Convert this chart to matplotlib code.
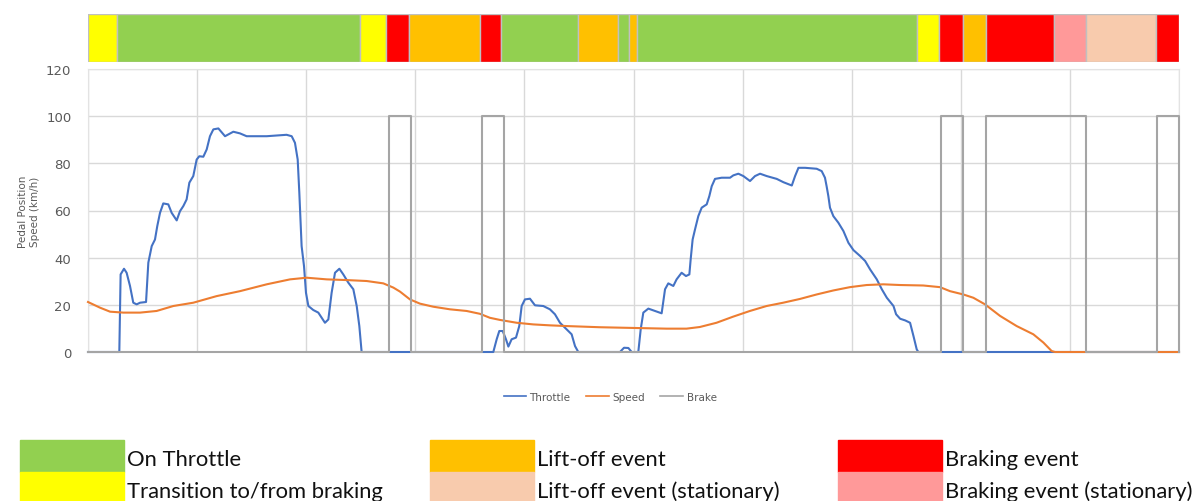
"""Pedal position / speed trace with driving-event strip."""

import matplotlib.pyplot as plt
from matplotlib.patches import Rectangle

# driving event strip: segment boundaries (sample index) and event type
segment_edges = [0, 26.6, 249.3, 273.1, 294.5, 359, 379, 448.7, 485.8, 495.9,
                 503.2, 759.4, 780, 802, 823, 885.4, 914.8, 978.5, 1000]
segment_events = ["transition", "throttle", "transition", "braking", "liftoff",
                  "braking", "throttle", "liftoff", "throttle", "liftoff",
                  "throttle", "transition", "braking", "liftoff", "braking",
                  "braking_stat", "liftoff_stat", "braking"]

event_colors = {
    "throttle": "#92d050",
    "transition": "#ffff00",
    "liftoff": "#ffc000",
    "liftoff_stat": "#f8cbad",
    "braking": "#ff0000",
    "braking_stat": "#ff9999",
}
legend_rows = [
    [("throttle", "On Throttle"), ("liftoff", "Lift-off event"), ("braking", "Braking event")],
    [("transition", "Transition to/from braking"), ("liftoff_stat", "Lift-off event (stationary)"),
     ("braking_stat", "Braking event (stationary)")],
]

throttle_x = [0, 28.7, 29.9, 33, 35.4, 38.5, 41.5, 44.6, 47.7, 53.2, 55.3, 58.4, 61.4,
              63.5, 66, 69, 73.6, 76.7, 81.3, 84.3, 87.4, 90.4, 92.9, 96.5, 99.6, 102,
              105.7, 108.8, 111.8, 114.9, 119.5, 125.6, 133.2, 139.3, 145.4, 163.8, 182,
              186.7, 189.7, 192.2, 193.7, 195.8, 198, 199.8, 202, 206.5, 211.1, 214.2,
              217.2, 220.3, 223.3, 226.4, 230.4, 234, 238.6, 243.2, 246.3, 248.7, 250.8,
              371.5, 374.6, 377, 380.1, 383.1, 385.3, 388.3, 392.3, 395.3, 397.5, 400.5,
              405.1, 409.7, 417.3, 423.4, 428, 432.6, 438.7, 443.3, 446.4, 449.4,
              487.6, 491.3, 495.3, 498.3, 504.4, 506.6, 509, 513.6, 519.7, 525.8, 528.9,
              531.9, 536.5, 539.5, 544.1, 548.1, 551.2, 552.4, 554.2, 556.4, 559.4, 562.5,
              567.1, 569.5, 571.7, 574.7, 580.8, 588.5, 591.5, 596.1, 600.7, 606.8, 611.4,
              616, 622.1, 631.3, 637.4, 645.1, 648.1, 651.2, 657.3, 667.9, 672.5, 675.5,
              677, 678.6, 680.1, 683.2, 687.8, 692.4, 697, 701.6, 707.7, 712.3, 716.9,
              723, 727.6, 732.2, 738.3, 740.7, 744.4, 749, 753.5, 756.6, 759.6, 761.1, 1000]
throttle_y = [0, 0, 32.9, 35.3, 33.6, 28, 20.9, 20.2, 20.9, 21.2, 37.9, 44.9, 47.7,
              53.4, 59, 63, 62.6, 59, 55.8, 59.7, 61.9, 64.7, 71.8, 74.6, 81.6, 83,
              82.8, 85.9, 91.5, 94.4, 94.8, 91.5, 93.4, 92.7, 91.5, 91.5, 92.1,
              91.5, 88.7, 81.6, 67.5, 44.9, 36.4, 25.1, 19.5, 17.8, 16.7, 14.5,
              12.4, 13.8, 25.1, 33.6, 35.3, 32.9, 29.4, 26.6, 19.5, 11, 0,
              0, 5.4, 8.9, 8.9, 5.4, 2.3, 5.4, 6.1, 11, 19.5, 22.3,
              22.6, 19.8, 19.5, 18.1, 16, 12.4, 9.6, 7.5, 2.5, 0,
              0, 1.8, 1.7, 0, 0, 9.6, 16.7, 18.4, 17.4, 16.4, 26.6,
              29.1, 28, 30.8, 33.6, 32.2, 32.9, 39.3, 47.7, 52, 57.6, 61.2,
              62.6, 66.1, 70.3, 73.4, 73.9, 73.9, 74.9, 75.6, 74.6, 72.5, 74.6,
              75.6, 74.6, 73.4, 72, 70.6, 74.6, 78.1, 78.1, 77.7, 76.7, 73.9,
              70.3, 66.1, 61.2, 57.6, 54.8, 51.3, 46.3, 43.2, 40.7, 38.6, 35,
              30.8, 26.6, 23, 19.5, 16, 14.1, 13.4, 12.4, 6.8, 1.1, 0, 0]

speed_x = [0, 11, 20.2, 32.4, 47.7, 62.9, 78.2, 96.5, 117.9, 139.3, 163.8, 185.2,
           200.4, 218.8, 237.1, 255.4, 270.7, 279.9, 286, 295.1, 304.3, 316.5, 331.8,
           347, 359.2, 368.4, 377.6, 392.9, 408.1, 423.4, 438.7, 469.2, 499.7, 530.3,
           548.6, 560.8, 576.1, 591.4, 606.7, 622, 637.2, 652.6, 667.9, 683.2, 698.4,
           713.7, 729, 744.3, 765.6, 780.9, 790.1, 802.3, 811.5, 822.2, 836, 851.2,
           866.5, 875.7, 883.3, 886.4, 1000]
speed_y = [21.2, 18.8, 17.1, 16.7, 16.7, 17.4, 19.5, 20.9, 23.7, 25.8, 28.7, 30.8,
           31.5, 30.8, 30.5, 30.1, 29.1, 27.3, 25.6, 22.3, 20.5, 19.2, 18.1,
           17.4, 16.2, 14.5, 13.6, 12.4, 11.7, 11.3, 11, 10.5, 10.2, 9.9,
           9.9, 10.6, 12.4, 15, 17.4, 19.5, 20.9, 22.5, 24.4, 26.1, 27.5,
           28.4, 28.7, 28.4, 28.2, 27.5, 25.8, 24.4, 23, 20.2, 15.3, 11,
           7.5, 4, 0.4, 0, 0]

# brake pedal on intervals (pressed = 100)
brake_on = [(276, 296), (361, 381), (781.6, 802.3), (823, 914.8), (979.8, 1000)]

y_ticks = [0, 20, 40, 60, 80, 100, 120]
label_grey = "#595959"


def brake_trace():
    xs, ys = [0], [0]
    for start, end in brake_on:
        xs += [start, start, end, end]
        ys += [0, 100, 100, 0]
    if xs[-1] < 1000:
        xs.append(1000)
        ys.append(0)
    return xs, ys


def run():
    fig = plt.figure(figsize=(12, 5.02), dpi=100)
    W, H = 1200, 502

    def frac(x0, y0, x1, y1):
        return [x0 / W, 1 - y1 / H, (x1 - x0) / W, (y1 - y0) / H]

    # event strip
    strip = fig.add_axes(frac(88, 15, 1179, 63))
    for i, ev in enumerate(segment_events):
        strip.axvspan(segment_edges[i], segment_edges[i + 1], color=event_colors[ev],
                      ec="#c0c0c0", lw=1)
    strip.set_xlim(0, 1000)
    strip.set_ylim(0, 1)
    strip.axis("off")

    # main trace
    ax = fig.add_axes(frac(88, 70, 1179, 353))
    line_kw = dict(lw=1.5, zorder=3, clip_on=False)
    ax.plot(throttle_x, throttle_y, color="#4472c4", label="Throttle", **line_kw)
    ax.plot(speed_x, speed_y, color="#ed7d31", label="Speed", **line_kw)
    bx, by = brake_trace()
    ax.plot(bx, by, color="#a5a5a5", label="Brake", **line_kw)
    ax.set_xlim(0, 1000)
    ax.set_ylim(0, 120)
    ax.set_yticks(y_ticks)
    ax.set_xticks(range(0, 1001, 100))
    ax.set_xticklabels([])
    ax.grid(True, color="#d9d9d9", lw=1)
    ax.set_axisbelow(True)
    ax.tick_params(length=0, pad=12, labelsize=9.5, labelcolor=label_grey)
    for side in ["top", "right", "left"]:
        ax.spines[side].set_color("#e3e3e3")
    ax.spines["bottom"].set_color("#bfbfbf")
    ax.spines["bottom"].set_linewidth(1.2)

    fig.text(29 / W, 1 - 212 / H, "Pedal Position\nSpeed (km/h)", rotation=90,
             ha="center", va="center", multialignment="center", fontsize=7.5,
             color=label_grey)

    leg = fig.legend(loc="center", bbox_to_anchor=(610 / W, 1 - 398 / H), ncol=3,
                     frameon=False, fontsize=7.5, handlelength=2.2, handletextpad=0.3,
                     columnspacing=1.5)
    for t in leg.get_texts():
        t.set_color(label_grey)
    for h in leg.get_lines():
        h.set_linewidth(1.2)

    # event colour key
    col_x = [20, 430, 838]
    row_y = [441, 473]
    for r, row in enumerate(legend_rows):
        for c, (ev, text) in enumerate(row):
            x0, y0 = col_x[c], row_y[r]
            fig.patches.append(Rectangle((x0 / W, 1 - (y0 + 32) / H), 104 / W, 32 / H,
                                         transform=fig.transFigure, color=event_colors[ev]))
            fig.text((x0 + 107) / W, 1 - (y0 + 25) / H, text, fontsize=15.8,
                     family="Lato", color="#111111", va="baseline")

    fig.savefig("out.png", dpi=100)
    plt.close(fig)


if __name__ == "__main__":
    run()
